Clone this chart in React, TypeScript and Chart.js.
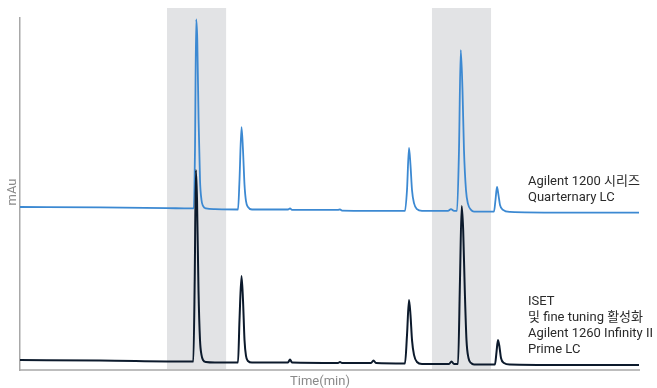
import { useEffect, useRef } from "react";
import { Chart, registerables } from "chart.js";

Chart.register(...registerables);

// Retention time (min) and absorbance (mAU, offset)
const blueTimes = [
  0, 2.585, 4.75, 5.493, 5.615, 5.654, 5.693, 5.728, 5.77, 5.816, 5.864, 5.913, 6.01, 6.3,
  7.044, 7.092, 7.157, 7.205, 7.254, 7.302, 7.367, 7.496, 8.659, 8.724, 8.788, 10.275,
  10.339, 10.404, 12.439, 12.504, 12.569, 12.617, 12.666, 12.73, 12.827, 12.989, 13.829,
  13.925, 14.023, 14.12, 14.184, 14.241, 14.297, 14.345, 14.41, 14.475, 14.572, 14.669,
  15.315, 15.363, 15.412, 15.46, 15.509, 15.606, 15.832, 17.447, 20.0,
];
const blueValues = [
  46.3, 46.2, 46.0, 45.9, 45.9, 62.5, 99.6, 93.8, 71.0, 54.0, 48.3, 46.6, 45.9, 45.7,
  45.6, 54.0, 69.0, 62.5, 52.6, 48.0, 46.3, 45.6, 45.6, 45.9, 45.5, 45.5,
  45.6, 45.3, 45.2, 51.1, 63.1, 58.2, 51.1, 47.4, 45.7, 45.2, 45.2,
  45.7, 45.2, 45.2, 62.5, 90.9, 79.5, 62.5, 51.1, 47.2, 45.5, 45.0,
  45.0, 48.3, 52.0, 49.7, 46.9, 45.5, 44.9, 44.7, 44.7,
];

const blackTimes = [
  0, 2.585, 5.493, 5.6, 5.645, 5.683, 5.72, 5.767, 5.816, 5.864, 5.913, 6.01, 6.3, 7.044,
  7.092, 7.157, 7.205, 7.254, 7.302, 7.367, 7.496, 8.659, 8.724, 8.788, 10.275, 10.339,
  10.404, 11.341, 11.422, 11.502, 12.439, 12.504, 12.569, 12.617, 12.666, 12.73, 12.827,
  12.989, 13.861, 13.942, 14.023, 14.152, 14.216, 14.271, 14.319, 14.371, 14.426, 14.491,
  14.572, 14.669, 15.347, 15.396, 15.444, 15.493, 15.541, 15.638, 15.832, 17.447, 20.0,
];
const blackValues = [
  2.84, 2.7, 2.41, 2.41, 25.6, 56.8, 48.3, 22.7, 8.5, 4.3, 2.84, 2.27, 2.13, 2.13,
  14.2, 26.7, 19.9, 8.5, 4.0, 2.56, 2.13, 2.13, 2.98, 2.13, 1.99, 2.27,
  1.99, 1.99, 2.7, 1.99, 1.85, 9.9, 19.9, 15.6, 8.5, 4.3, 2.27,
  1.7, 1.7, 2.41, 1.7, 1.7, 25.6, 46.6, 39.8, 22.7, 8.5, 3.41,
  1.99, 1.56, 1.56, 5.1, 8.5, 6.5, 3.4, 1.99, 1.56, 1.42, 1.42,
];

// Highlighted retention windows (min)
const bandStarts = [4.75, 13.31];
const bandEnds = [6.66, 15.22];

const seriesNames = ["Agilent 1200 시리즈", "ISET 및 fine tuning 활성화 Agilent 1260 Infinity II Prime LC"];
const blueLabelLines = ["Agilent 1200 시리즈", "Quarternary LC"];
const blackLabelLines = ["ISET", "및 fine tuning 활성화", "Agilent 1260 Infinity II", "Prime LC"];
const yAxisTitle = "mAu";
const xAxisTitle = "Time(min)";

const FONT = '13px Roboto, "Noto Sans CJK KR", sans-serif';

const zip = (xs: number[], ys: number[]) => xs.map((x, i) => ({ x, y: ys[i] }));

const bandsPlugin = {
  id: "bands",
  beforeDraw(chart: any) {
    const { ctx, chartArea, scales } = chart;
    const x = scales.x;
    ctx.save();
    ctx.fillStyle = "#e2e3e5";
    bandStarts.forEach((s, i) => {
      const x0 = x.getPixelForValue(s);
      const x1 = x.getPixelForValue(bandEnds[i]);
      ctx.fillRect(x0, chartArea.top - 10, x1 - x0, chartArea.bottom - chartArea.top + 10);
    });
    ctx.restore();
  },
};

const textPlugin = {
  id: "texts",
  afterDraw(chart: any) {
    const { ctx, chartArea } = chart;
    ctx.save();
    ctx.font = FONT;
    ctx.textBaseline = "middle";
    ctx.fillStyle = "#2a2a2a";
    ctx.textAlign = "left";
    const lx = chartArea.right - 111;
    blueLabelLines.forEach((t, i) => ctx.fillText(t, lx, chartArea.top + 164 + i * 15.5));
    blackLabelLines.forEach((t, i) => ctx.fillText(t, lx, chartArea.top + 284 + i * 16));
    ctx.fillStyle = "#8a8a8a";
    ctx.textAlign = "center";
    ctx.fillText(xAxisTitle, chartArea.left + 300, chartArea.bottom + 12);
    ctx.translate(chartArea.left - 7.5, (chartArea.top + chartArea.bottom) / 2 - 2);
    ctx.rotate(-Math.PI / 2);
    ctx.fillText(yAxisTitle, 0, 0);
    ctx.restore();
  },
};

export default function App() {
  const ref = useRef<HTMLCanvasElement | null>(null);
  useEffect(() => {
    if (!ref.current) return;
    const chart = new Chart(ref.current, {
      type: "line",
      data: {
        datasets: [
          {
            label: seriesNames[1],
            data: zip(blackTimes, blackValues),
            borderColor: "#0c1a2c",
            borderWidth: 2,
            pointRadius: 0,
            cubicInterpolationMode: "monotone",
            order: 0,
          },
          {
            label: seriesNames[0],
            data: zip(blueTimes, blueValues),
            borderColor: "#3c89d2",
            borderWidth: 1.8,
            pointRadius: 0,
            cubicInterpolationMode: "monotone",
            order: 1,
          },
        ],
      },
      options: {
        animation: false,
        responsive: false,
        devicePixelRatio: 1,
        layout: { padding: { left: 20, top: 18, right: 18, bottom: 18 } },
        plugins: { legend: { display: false }, tooltip: { enabled: false } },
        scales: {
          x: {
            type: "linear",
            min: 0,
            max: 20,
            grid: { display: false, drawTicks: false },
            ticks: { display: false },
            border: { display: true, color: "#bdbdbd", width: 2 },
          },
          y: {
            type: "linear",
            min: 0,
            max: 100,
            grid: { display: false, drawTicks: false },
            ticks: { display: false },
            border: { display: true, color: "#a8a8a8", width: 1.5 },
          },
        },
      },
      plugins: [bandsPlugin, textPlugin],
    });
    return () => chart.destroy();
  }, []);
  return (
    <div style={{ position: "fixed", left: 0, top: 0, width: 657, height: 388, background: "#fff" }}>
      <canvas ref={ref} width={657} height={388} style={{ display: "block" }} />
    </div>
  );
}
